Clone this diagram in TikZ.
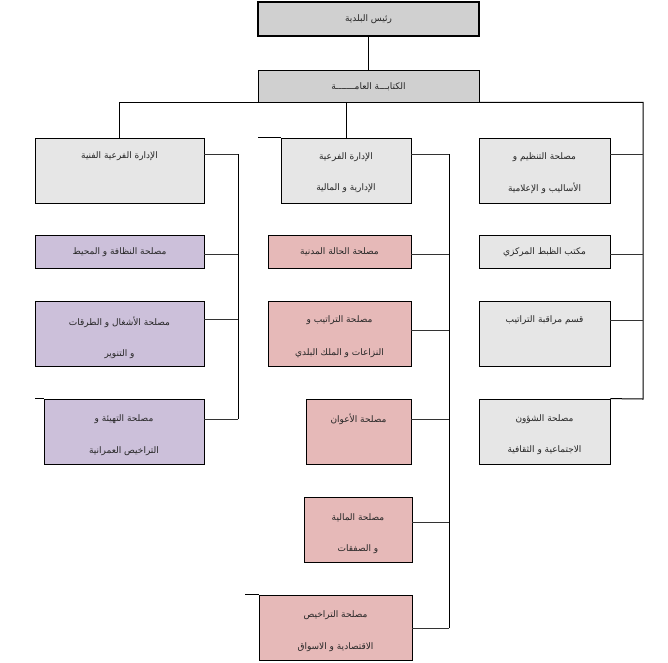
\documentclass[tikz,border=0pt]{standalone}
\usepackage{fontspec}
\newfontfamily\arabicfont[Script=Arabic]{DejaVu Sans}
\TeXXeTstate=1
\definecolor{headgray}{HTML}{D0D0D0}
\definecolor{boxgray}{HTML}{E6E6E6}
\definecolor{boxlilac}{HTML}{CCC0DA}
\definecolor{boxrose}{HTML}{E6B9B8}
\newcommand{\ar}[1]{\arabicfont\fontsize{9}{11}\selectfont\beginR #1\endR}
\tikzset{
  unit/.style={rectangle,draw,line width=0.8pt,inner sep=0pt},
  lbl/.style={inner sep=0pt,text=black!85},
  link/.style={line width=1pt},
  tick/.style={line width=0.8pt,black!80}
}
\begin{document}
\begin{tikzpicture}[x=1pt,y=-1pt]
\useasboundingbox (0,0) rectangle (668,662);

% head
\node[unit,line width=1.8pt,fill=headgray,minimum width=221pt,minimum height=34pt] (mayor) at (368.5,19) {};
 \node[lbl] (mayor_t) at (368.5,19) {\ar{رئيس البلدية}};
\node[unit,fill=headgray,minimum width=221pt,minimum height=32pt] (office) at (368.5,86) {};
 \node[lbl] (office_t) at (368.5,87) {\ar{الكتابـــة العامـــــــة}};

% left column
\node[unit,fill=boxgray,minimum width=169pt,minimum height=65pt] (l1) at (119.5,170.5) {};
 \node[lbl] (l1_t) at (119.5,156) {\ar{الإدارة الفرعية الفنية}};
\node[unit,fill=boxlilac,minimum width=169pt,minimum height=33pt] (l2) at (119.5,251.5) {};
 \node[lbl] (l2_t) at (119.5,252) {\ar{مصلحة النظافة و المحيط}};
\node[unit,fill=boxlilac,minimum width=169pt,minimum height=65pt] (l3) at (119.5,333.5) {};
 \node[lbl] (l3_t) at (119.5,322) {\ar{مصلحة الأشغال و الطرقات}};
 \node[lbl] (l3_u) at (119.5,354) {\ar{و التنوير}};
\node[unit,fill=boxlilac,minimum width=160pt,minimum height=65pt] (l4) at (124,431.5) {};
 \node[lbl] (l4_t) at (124,419) {\ar{مصلحة التهيئة و}};
 \node[lbl] (l4_u) at (124,451) {\ar{التراخيص العمرانية}};

% middle column
\node[unit,fill=boxgray,minimum width=130pt,minimum height=65pt] (m1) at (346,170.5) {};
 \node[lbl] (m1_t) at (346,157) {\ar{الإدارة الفرعية}};
 \node[lbl] (m1_u) at (346,188) {\ar{الإدارية و المالية}};
\node[unit,fill=boxrose,minimum width=143pt,minimum height=33pt] (m2) at (339.5,251.5) {};
 \node[lbl] (m2_t) at (339.5,252) {\ar{مصلحة الحالة المدنية}};
\node[unit,fill=boxrose,minimum width=143pt,minimum height=65pt] (m3) at (339.5,333.5) {};
 \node[lbl] (m3_t) at (339.5,320) {\ar{مصلحة التراتيب و}};
 \node[lbl] (m3_u) at (339.5,353) {\ar{النزاعات و الملك البلدي}};
\node[unit,fill=boxrose,minimum width=105pt,minimum height=65pt] (m4) at (358.5,431.5) {};
 \node[lbl] (m4_t) at (358.5,419) {\ar{مصلحة الأعوان}};
\node[unit,fill=boxrose,minimum width=108pt,minimum height=65pt] (m5) at (358,529.5) {};
 \node[lbl] (m5_t) at (358,518) {\ar{مصلحة المالية}};
 \node[lbl] (m5_u) at (358,549) {\ar{و الصفقات}};
\node[unit,fill=boxrose,minimum width=153pt,minimum height=65pt] (m6) at (335.5,627.5) {};
 \node[lbl] (m6_t) at (335.5,615) {\ar{مصلحة التراخيص}};
 \node[lbl] (m6_u) at (335.5,647) {\ar{الاقتصادية و الاسواق}};

% right column
\node[unit,fill=boxgray,minimum width=131pt,minimum height=65pt] (r1) at (544.5,170.5) {};
 \node[lbl] (r1_t) at (544.5,157) {\ar{مصلحة التنظيم و}};
 \node[lbl] (r1_u) at (544.5,188) {\ar{الأساليب و الإعلامية}};
\node[unit,fill=boxgray,minimum width=131pt,minimum height=33pt] (r2) at (544.5,251.5) {};
 \node[lbl] (r2_t) at (544.5,252) {\ar{مكتب الظبط المركزي}};
\node[unit,fill=boxgray,minimum width=131pt,minimum height=65pt] (r3) at (544.5,333.5) {};
 \node[lbl] (r3_t) at (544.5,320) {\ar{قسم مراقبة التراتيب}};
\node[unit,fill=boxgray,minimum width=131pt,minimum height=65pt] (r4) at (544.5,431.5) {};
 \node[lbl] (r4_t) at (544.5,419) {\ar{مصلحة الشؤون}};
 \node[lbl] (r4_u) at (544.5,450) {\ar{الاجتماعية و الثقافية}};

% main links
\draw[link] (mayor) -- (office);
\coordinate (rcorner) at (643,399);
\draw[link] (l1.north) |- (office.south west);
\draw[link] (office.south east) -| (rcorner) -- (r4.north east);
\draw[link] (m1.north) -- (m1.north |- office.south);
\draw[link] (m1.north west) -- ++(-23,0);
\draw[link] (l4.north west) -- ++(-9,0);
\draw[link] (m6.north west) -- ++(-14,0);

% branch lines
\coordinate (ltop) at (238,154);
\coordinate (lbot) at (238,419);
\coordinate (mtop) at (449,154);
\coordinate (mbot) at (449,628);
\draw[link] (ltop) -- (lbot);
\draw[link] (mtop) -- (mbot);
\foreach \b/\yy in {l1/154,l2/254,l3/319,l4/419}
  \draw[tick] (238,\yy) -- (\b.east |- 0,\yy);
\foreach \b/\yy in {m1/154,m2/254,m3/330,m4/419,m5/522,m6/628}
  \draw[tick] (449,\yy) -- (\b.east |- 0,\yy);
\foreach \b/\yy in {r1/154,r2/254,r3/320}
  \draw[tick] (643,\yy) -- (\b.east |- 0,\yy);
\end{tikzpicture}
\end{document}
